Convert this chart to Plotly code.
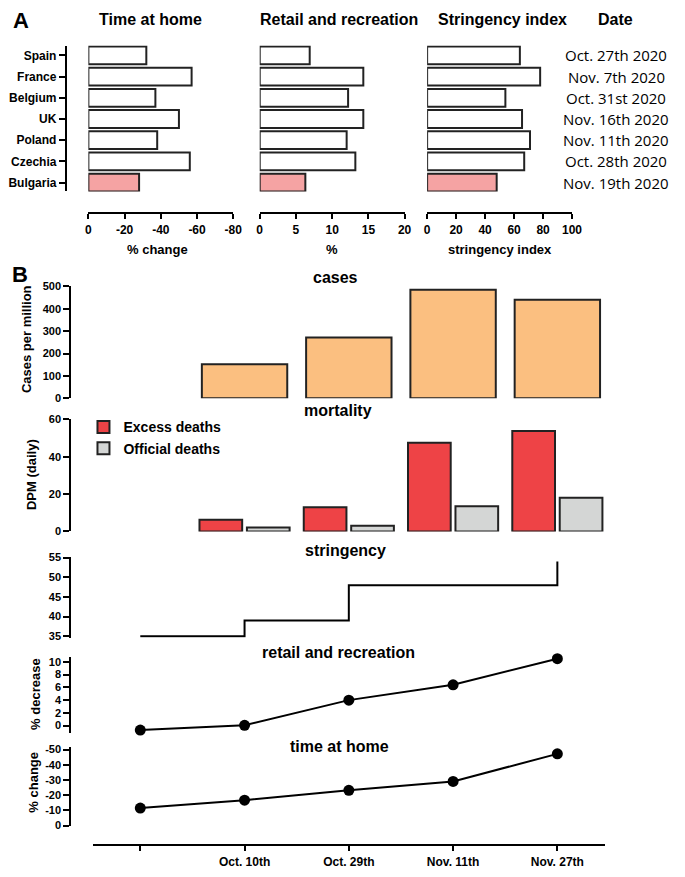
import plotly.graph_objects as go

# Reference canvas is 685x877; the page body has an 8px margin, so the figure
# is sized to fit inside it and every reference pixel is shifted by OFF.
REF_W, REF_H = 685, 877
OFF = 8
W, H = REF_W - 2 * OFF, REF_H - 2 * OFF

# ---------------- data: panel A ----------------
countries = ["Spain", "France", "Belgium", "UK", "Poland", "Czechia", "Bulgaria"]
home_change = [-32, -57, -37, -50, -38, -56, -28]
retail_pct = [6.9, 14.3, 12.2, 14.3, 12.0, 13.2, 6.3]
stringency_idx = [64, 78, 54, 65.5, 71, 67, 48]
dates_a = ["Oct. 27th 2020", "Nov. 7th 2020", "Oct. 31st 2020", "Nov. 16th 2020",
           "Nov. 11th 2020", "Oct. 28th 2020", "Nov. 19th 2020"]
highlight = "Bulgaria"

home_tickvals = [0, -20, -40, -60, -80]
home_ticktext = ["0", "-20", "-40", "-60", "-80"]
retail_tickvals = [0, 5, 10, 15, 20]
string_tickvals = [0, 20, 40, 60, 80, 100]

# ---------------- data: panel B ----------------
periods = ["", "Oct. 10th", "Oct. 29th", "Nov. 11th", "Nov. 27th"]
period_idx = [0, 1, 2, 3, 4]
cases_pm = [None, 152, 272, 485, 441]
excess_dpm = [None, 6.2, 12.9, 47.5, 53.7]
official_dpm = [None, 2.1, 3.0, 13.5, 18.0]
stringency_b = [35, 39, 48, 48, 54]
retail_decrease = [-0.7, 0.05, 4.0, 6.4, 10.5]
home_change_b = [-11.5, -16.7, -23.2, -29.0, -47.2]
home_b_tickvals = [0, -10, -20, -30, -40, -50]
home_b_ticktext = ["0", "-10", "-20", "-30", "-40", "-50"]

FONT = "Liberation Sans, Arial, sans-serif"
EDGE = "#222222"
PINK = "#F5A3A3"
PEACH = "#FBBF80"
RED = "#EE4346"
GREY = "#D4D6D5"


def fx(px):
    return (px - OFF) / W


def fy(py):
    return 1 - (py - OFF) / H


fig = go.Figure()

# ---------- Panel A bars ----------
fills = [PINK if c == highlight else "white" for c in countries]
for vals, xa in [(home_change, "x"), (retail_pct, "x2"), (stringency_idx, "x3")]:
    fig.add_trace(go.Bar(
        x=vals, y=countries, orientation="h", xaxis=xa, yaxis="y",
        marker=dict(color=fills, line=dict(color=EDGE, width=2)),
        width=0.84, showlegend=False, hoverinfo="skip"))

# ---------- Panel B ----------
fig.add_trace(go.Bar(x=period_idx, y=cases_pm, xaxis="x4", yaxis="y4",
                     marker=dict(color=PEACH, line=dict(color=EDGE, width=2)),
                     showlegend=False))
fig.add_trace(go.Bar(x=period_idx, y=excess_dpm, xaxis="x5", yaxis="y5",
                     name="Excess deaths",
                     marker=dict(color=RED, line=dict(color=EDGE, width=2))))
fig.add_trace(go.Bar(x=period_idx, y=official_dpm, xaxis="x5", yaxis="y5",
                     name="Official deaths",
                     marker=dict(color=GREY, line=dict(color=EDGE, width=2))))
fig.add_trace(go.Scatter(x=period_idx, y=stringency_b, xaxis="x6", yaxis="y6",
                         mode="lines", line=dict(color="black", width=2, shape="hv"),
                         showlegend=False, cliponaxis=False))
fig.add_trace(go.Scatter(x=period_idx, y=retail_decrease, xaxis="x7", yaxis="y7",
                         mode="lines+markers", line=dict(color="black", width=2),
                         marker=dict(color="black", size=11),
                         showlegend=False, cliponaxis=False))
fig.add_trace(go.Scatter(x=period_idx, y=home_change_b, xaxis="x8", yaxis="y8",
                         mode="lines+markers", line=dict(color="black", width=2),
                         marker=dict(color="black", size=11),
                         showlegend=False, cliponaxis=False))

tickfont_a = dict(family=FONT, size=12, color="black", weight="bold")
tickfont_b = dict(family=FONT, size=11, color="black", weight="bold")

axis_common = dict(showgrid=False, zeroline=False, showline=True, linecolor="black",
                   linewidth=2, ticks="outside", tickcolor="black", tickwidth=2)

layout = dict(
    width=W, height=H, margin=dict(l=0, r=0, t=0, b=0),
    paper_bgcolor="white", plot_bgcolor="rgba(0,0,0,0)",
    barmode="group", bargap=0.09, bargroupgap=0.1,
    font=dict(family=FONT, color="black"),
    showlegend=True,
    legend=dict(x=fx(81), y=fy(411), xanchor="left", yanchor="top",
                bgcolor="rgba(0,0,0,0)", font=dict(family=FONT, size=14, weight="bold"),
                tracegroupgap=0, itemwidth=30),
)

# Panel A axes
layout["xaxis"] = dict(domain=[fx(86), fx(234)], range=[0, -80], anchor="free",
                       position=fy(210), tickvals=home_tickvals, ticktext=home_ticktext,
                       ticklen=5, tickfont=tickfont_a, **axis_common)
layout["xaxis2"] = dict(domain=[fx(261), fx(409)], range=[0, 20], anchor="free",
                        position=fy(210), tickvals=retail_tickvals, ticklen=5,
                        tickfont=tickfont_a, **axis_common)
layout["xaxis3"] = dict(domain=[fx(432), fx(580)], range=[0, 100], anchor="free",
                        position=fy(210), tickvals=string_tickvals, ticklen=5,
                        tickfont=tickfont_a, **axis_common)
layout["yaxis"] = dict(domain=[fy(188), fy(40)], anchor="free", position=fx(63),
                       type="category", categoryorder="array", categoryarray=countries,
                       range=[6.42, -0.465], ticklen=6, tickfont=tickfont_a, **axis_common)

# Panel B axes
xb_dom = [fx(91), fx(614)]
xb_range = [-0.451, 4.46]
rows = [
    (4, 284.3, 397.7, [0, 500], [0, 100, 200, 300, 400, 500], None),
    (5, 419.0, 532.7, [0, 60], [0, 20, 40, 60], None),
    (6, 558.5, 640.6, [34.6, 55.2], [35, 40, 45, 50, 55], None),
    (7, 660.5, 736.8, [-1.1, 10.7], [0, 2, 4, 6, 8, 10], None),
    (8, 751.7, 831.9, [0.6, -51.5], home_b_tickvals, home_b_ticktext),
]
for n, top, bot, rng, tv, tt in rows:
    ya = dict(domain=[fy(bot), fy(top)], anchor="free", position=fx(67.5), range=rng,
              tickvals=tv, ticklen=6, tickfont=tickfont_b, **axis_common)
    if tt is not None:
        ya["ticktext"] = tt
    layout[f"yaxis{n}"] = ya
    if n < 8:
        layout[f"xaxis{n}"] = dict(domain=xb_dom, range=xb_range, visible=False,
                                   anchor=f"y{n}", showgrid=False, zeroline=False)
layout["xaxis8"] = dict(domain=xb_dom, range=xb_range, anchor="free", position=fy(851),
                        tickvals=period_idx, ticktext=periods, ticklen=5,
                        tickfont=dict(family=FONT, size=12, color="black", weight="bold"),
                        **axis_common)

fig.update_layout(**layout)

# ---------- annotations ----------
ann = []


def text(x, y, s, size, bold=True, angle=0, family=FONT):
    ann.append(dict(x=fx(x), y=fy(y), xref="paper", yref="paper", text=s, showarrow=False,
                    xanchor="center", yanchor="middle", textangle=angle,
                    font=dict(family=family, size=size, color="black",
                              weight="bold" if bold else "normal")))


text(17, 15, "A", 22)
text(149, 14, "Time at home", 16)
text(342, 14, "Retail and recreation", 16)
text(509, 14, "Stringency index", 16)
text(624, 14, "Date", 16)
for i, d in enumerate(dates_a):
    text(625, 50 + i * 21.5, d, 15, bold=False, family="Open Sans, sans-serif")
text(157, 247, "% change", 13)
text(335, 247, "%", 13)
text(506, 247, "stringency index", 13)

text(16, 272, "B", 22)
text(338, 275, "cases", 16)
text(341, 410, "mortality", 16)
text(349, 552, "stringency", 16)
text(341, 656, "retail and recreation", 16)
text(342, 751, "time at home", 16)
text(23, 338, "Cases per million", 13, angle=-90)
text(28, 475, "DPM (daily)", 13, angle=-90)
text(32, 697, "% decrease", 13, angle=-90)
text(30, 787, "% change", 13, angle=-90)

fig.update_layout(annotations=ann)

fig.write_html("out.html")
